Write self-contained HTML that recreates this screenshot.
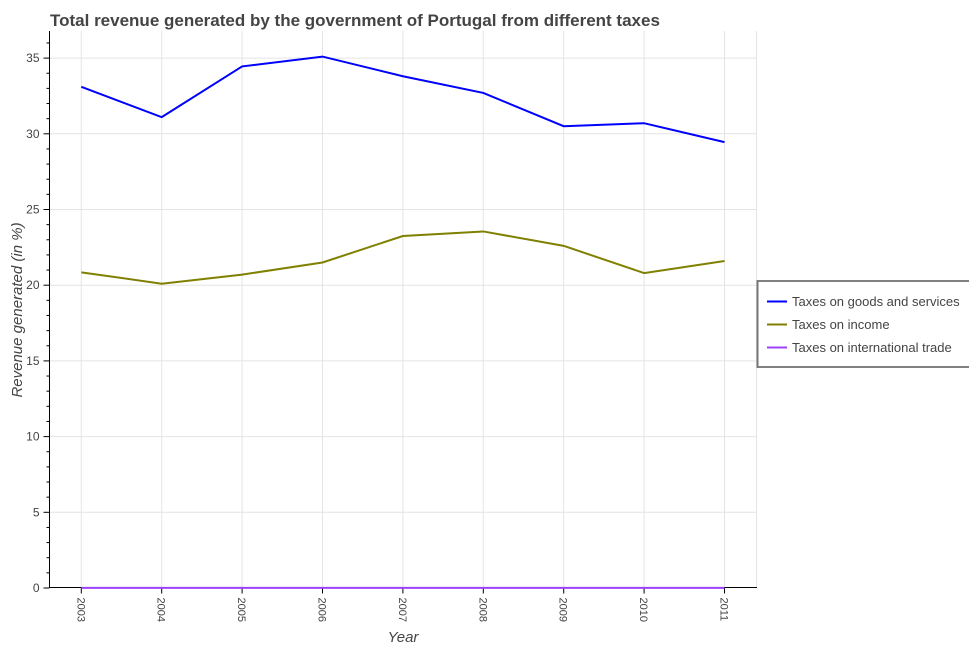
<!DOCTYPE html>
<html><head><meta charset="utf-8"><style>
body{margin:0;background:#fff;font-family:"Liberation Sans",sans-serif}
</style></head><body>
<svg id="chart" width="969" height="650" xmlns="http://www.w3.org/2000/svg" font-family="Liberation Sans, sans-serif">
<text x="50" y="26" font-size="17" font-weight="bold" fill="#444">Total revenue generated by the government of Portugal from different taxes</text>
<g id="grid"></g>
<g id="axes"></g>
<g id="series"></g>
<text x="403" y="642" font-size="15" font-style="italic" fill="#444" text-anchor="middle">Year</text>
<text transform="translate(22,310) rotate(-90)" font-size="15" font-style="italic" fill="#444" text-anchor="middle">Revenue generated (in %)</text>
<g>
<rect x="757" y="281" width="215" height="86" fill="#fff" stroke="#000" stroke-width="1"/>
<line x1="757.5" y1="281" x2="757.5" y2="367" stroke="#777" stroke-width="2"/>
<g><line x1="767" y1="301.5" x2="787" y2="301.5" stroke="#0000ff" stroke-width="2"/><text x="792" y="306" font-size="13" fill="#444">Taxes on goods and services</text></g>
<g><line x1="767" y1="324.5" x2="787" y2="324.5" stroke="#808000" stroke-width="2"/><text x="792" y="329" font-size="13" fill="#444">Taxes on income</text></g>
<g><line x1="767" y1="347.5" x2="787" y2="347.5" stroke="#a040ff" stroke-width="2"/><text x="792" y="352" font-size="13" fill="#444">Taxes on international trade</text></g>
</g>
</svg>
<script>
const years=["2003","2004","2005","2006","2007","2008","2009","2010","2011"];
const goods=[33.1,31.1,34.45,35.1,33.8,32.7,30.5,30.7,29.45];
const income=[20.85,20.1,20.7,21.5,23.25,23.55,22.6,20.8,21.6];
const trade=[0.005,0.005,0.005,0.005,0.005,0.005,0.005,0.005,0.005];
const yTicks=[0,5,10,15,20,25,30,35];
const NS="http://www.w3.org/2000/svg";
const L=49.5,R=757,T=31,B=587.5;
const x=i=>81.3+i*80.4;
const y=v=>588-v*15.14;
function mk(tag,attrs,parent){const e=document.createElementNS(NS,tag);for(const k in attrs)e.setAttribute(k,attrs[k]);parent.appendChild(e);return e;}
const grid=document.getElementById('grid'),axes=document.getElementById('axes'),ser=document.getElementById('series');
mk('rect',{x:L,y:T,width:R-L,height:B-T,fill:'#fff'},grid);
years.forEach((yr,i)=>{const g=mk('line',{x1:x(i),x2:x(i),y1:T,y2:B,stroke:'#e4e4e4'},grid);


mk('line',{x1:x(i),x2:x(i),y1:B,y2:B+6,stroke:'#000'},axes);
const t=mk('text',{transform:`translate(${x(i)-4},${B+10}) rotate(90)`,'font-size':'11',fill:'#444'},axes);
t.textContent=yr;

});
mk('line',{x1:R-0.5,x2:R-0.5,y1:T,y2:B,stroke:'#e4e4e4'},grid);
yTicks.forEach(v=>{if(v>0){const g=mk('line',{x1:L,x2:R,y1:y(v),y2:y(v),stroke:'#e4e4e4'},grid);

}
mk('line',{x1:L-6,x2:L,y1:y(v),y2:y(v),stroke:'#000'},axes);
const t=mk('text',{x:L-10,y:y(v)+4,'font-size':'12',fill:'#444','text-anchor':'end'},axes);
t.textContent=v;

});
for(let v=1;v<=36;v++){if(v%5)mk('line',{x1:L-3,x2:L,y1:y(v),y2:y(v),stroke:'#000'},axes);}
mk('line',{x1:L,x2:L,y1:T,y2:B,stroke:'#000'},axes);
mk('line',{x1:L,x2:R,y1:B,y2:B,stroke:'#000'},axes);
function line(data,color,name){const p=mk('polyline',{points:data.map((v,i)=>x(i)+','+y(v)).join(' '),fill:'none',stroke:color,'stroke-width':2},ser);

}
line(goods,'#0000ff','goods-line');
line(income,'#808000','income-line');
line(trade,'#a040ff','trade-line');
</script>
</body></html>
